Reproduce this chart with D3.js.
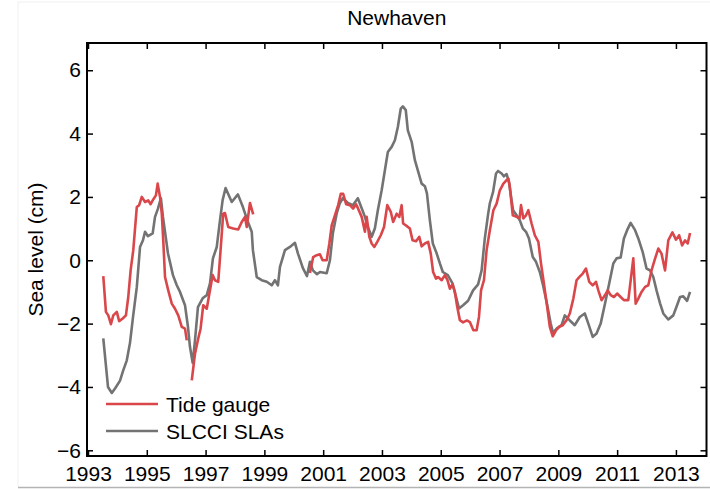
<!DOCTYPE html>
<html>
<head>
<meta charset="utf-8">
<script src="https://cdn.jsdelivr.net/npm/d3@7"></script>
<style>
  body { margin: 0; background: #fff; }
  text { font-family: "Liberation Sans", Arial, Helvetica, sans-serif; }
</style>
</head>
<body>
<div id="chart"></div>
<script>
// tick labels
const xTicks = [1993, 1995, 1997, 1999, 2001, 2003, 2005, 2007, 2009, 2011, 2013];
const yTicks = [-6, -4, -2, 0, 2, 4, 6];

// tide gauge (null = missing)
const gaugeYears = [1993.52, 1993.61, 1993.69, 1993.78, 1993.86, 1993.98, 1994.06, 1994.18, 1994.29, 1994.37,
  1994.45, 1994.54, 1994.66, 1994.74, 1994.83, 1994.94, 1995.05, 1995.13, 1995.22, 1995.31,
  1995.37, 1995.45, 1995.51, 1995.56, 1995.62, 1995.73, 1995.85, 1995.96, 1996.07, 1996.19,
  1996.30, 1996.36, 1996.45, 1996.53, 1996.64, 1996.75, 1996.83, 1996.92, 1997.04, 1997.13,
  1997.24, 1997.32, 1997.43, 1997.51, 1997.60, 1997.66, 1997.77, 1997.94, 1998.11, 1998.23,
  1998.34, 1998.40, 1998.51, 1998.62, 1999.5,
  2000.55, 2000.66, 2000.78, 2000.89, 2000.98, 2001.12, 2001.21, 2001.29, 2001.40, 2001.51,
  2001.60, 2001.68, 2001.78, 2001.91, 2002.02, 2002.12, 2002.19, 2002.31, 2002.42, 2002.48,
  2002.57, 2002.65, 2002.74, 2002.84, 2002.96, 2003.07, 2003.18, 2003.30, 2003.38, 2003.50,
  2003.59, 2003.67, 2003.72, 2003.86, 2003.95, 2004.04, 2004.16, 2004.27, 2004.35, 2004.46,
  2004.57, 2004.66, 2004.74, 2004.84, 2004.91, 2005.03, 2005.14, 2005.23, 2005.31, 2005.40,
  2005.48, 2005.56, 2005.65, 2005.76, 2005.89, 2005.99, 2006.11, 2006.22, 2006.30, 2006.37,
  2006.47, 2006.56, 2006.67, 2006.79, 2006.90, 2007.01, 2007.13, 2007.24, 2007.30, 2007.35,
  2007.45, 2007.58, 2007.68, 2007.73, 2007.81, 2007.90, 2007.98, 2008.09, 2008.20, 2008.32,
  2008.41, 2008.51, 2008.62, 2008.71, 2008.81, 2008.92, 2009.03, 2009.15, 2009.28, 2009.39,
  2009.51, 2009.62, 2009.71, 2009.83, 2009.94, 2010.05, 2010.17, 2010.28, 2010.36, 2010.47,
  2010.59, 2010.68, 2010.78, 2010.89, 2011.00, 2011.12, 2011.23, 2011.38, 2011.55, 2011.63,
  2011.72, 2011.83, 2011.95, 2012.06, 2012.17, 2012.29, 2012.40, 2012.51, 2012.63, 2012.74,
  2012.88, 2013.00, 2013.11, 2013.21, 2013.31, 2013.40, 2013.48];
const gaugeLevels = [-0.5, -1.63, -1.74, -2.02, -1.74, -1.63, -1.92, -1.84, -1.74, -1.16,
  -0.32, 0.32, 1.68, 1.74, 2.0, 1.84, 1.89, 1.77, 1.92, 2.05,
  2.42, 2.0, 1.47, 0.63, -0.53, -0.95, -1.37, -1.53, -1.74, -2.1,
  -2.16, -2.53, null, -3.79, -2.95, -2.47, -2.16, -1.42, -1.53, -1.05,
  -0.47, -0.63, -0.68, 0.32, 1.47, 1.49, 1.05, 1.0, 0.97, 1.21,
  1.37, 1.05, 1.81, 1.45, null,
  -0.4, 0.1, 0.16, 0.19, 0.0, 0.0, 0.53, 1.1, 1.42, 1.74,
  2.1, 2.1, 1.77, 1.74, 1.63, 1.77, 1.63, 1.37, 0.9, 1.37,
  0.74, 0.53, 0.42, 0.58, 0.79, 1.05, 1.74, 1.53, 1.21, 1.47,
  1.37, 1.74, 1.16, 1.07, 1.0, 0.63, 0.6, 0.74, 0.44, 0.53,
  0.58, 0.21, -0.37, -0.58, -0.53, -0.63, -0.47, -0.63, -0.9, -0.76,
  -1.0, -1.47, -1.89, -1.96, -1.9, -1.95, -2.21, -2.21, -1.79, -0.95,
  -0.63, 0.32, 0.95, 1.58, 1.79, 2.21, 2.42, 2.53, 2.58, 2.32,
  1.42, 1.37, 1.32, 1.74, 1.32, 1.42, 1.58, 1.16, 0.79, 0.58,
  -0.1, -0.74, -1.47, -2.1, -2.4, -2.21, -2.1, -2.05, -1.89, -1.68,
  -1.21, -0.63, -0.53, -0.42, -0.26, -0.68, -0.79, -0.68, -0.95, -1.26,
  -1.1, -0.95, -1.1, -1.16, -1.05, -1.16, -1.26, -1.26, 0.06, -1.37,
  -1.21, -1.0, -0.84, -0.79, -0.32, 0.05, 0.37, 0.21, -0.32, 0.63,
  0.88, 0.65, 0.79, 0.47, 0.63, 0.53, 0.86];

// SLCCI altimetry
const slaYears = [1993.52, 1993.68, 1993.81, 1993.92, 1994.09, 1994.19, 1994.32, 1994.43, 1994.53, 1994.66,
  1994.77, 1994.87, 1994.94, 1995.04, 1995.20, 1995.28, 1995.38, 1995.48, 1995.55, 1995.72,
  1995.89, 1996.02, 1996.13, 1996.30, 1996.40, 1996.47, 1996.56, 1996.64, 1996.74, 1996.90,
  1997.04, 1997.15, 1997.25, 1997.38, 1997.49, 1997.58, 1997.68, 1997.89, 1998.10, 1998.27,
  1998.44, 1998.57, 1998.61, 1998.74, 1998.91, 1999.08, 1999.25, 1999.36, 1999.46, 1999.53,
  1999.70, 1999.87, 2000.04, 2000.14, 2000.31, 2000.45, 2000.55, 2000.65, 2000.79, 2000.89,
  2001.12, 2001.23, 2001.33, 2001.46, 2001.57, 2001.67, 2001.84, 2002.01, 2002.18, 2002.31,
  2002.42, 2002.52, 2002.65, 2002.76, 2002.86, 2002.99, 2003.10, 2003.20, 2003.33, 2003.44,
  2003.54, 2003.64, 2003.71, 2003.81, 2003.88, 2004.01, 2004.12, 2004.22, 2004.35, 2004.46,
  2004.53, 2004.63, 2004.73, 2004.86, 2004.97, 2005.07, 2005.24, 2005.40, 2005.52, 2005.62,
  2005.76, 2005.93, 2006.10, 2006.27, 2006.39, 2006.50, 2006.61, 2006.67, 2006.78, 2006.88,
  2006.95, 2007.07, 2007.15, 2007.24, 2007.32, 2007.41, 2007.46, 2007.58, 2007.69, 2007.79,
  2007.90, 2008.00, 2008.13, 2008.24, 2008.37, 2008.48, 2008.61, 2008.74, 2008.82, 2008.95,
  2009.11, 2009.22, 2009.39, 2009.56, 2009.73, 2009.90, 2010.02, 2010.17, 2010.30, 2010.44,
  2010.59, 2010.73, 2010.87, 2010.98, 2011.12, 2011.23, 2011.34, 2011.46, 2011.61, 2011.72,
  2011.87, 2012.00, 2012.12, 2012.23, 2012.34, 2012.46, 2012.57, 2012.74, 2012.91, 2013.02,
  2013.14, 2013.25, 2013.38, 2013.48];
const slaLevels = [-2.47, -4.0, -4.19, -4.05, -3.8, -3.5, -3.16, -2.6, -1.8, -0.85,
  0.42, 0.63, 0.9, 0.76, 0.85, 1.37, 1.63, 1.96, 1.37, 0.22,
  -0.47, -0.79, -1.0, -1.42, -2.1, -2.74, -3.24, -2.53, -1.48, -1.2,
  -1.1, -0.73, 0.06, 0.42, 1.26, 1.9, 2.28, 1.84, 2.08, 1.68,
  1.21, 0.9, 0.32, -0.53, -0.63, -0.68, -0.79, -0.63, -0.79, -0.21,
  0.32, 0.42, 0.55, 0.22, -0.25, -0.5, -0.05, -0.32, -0.44, -0.37,
  -0.41, 0.0, 0.85, 1.48, 1.81, 1.96, 1.81, 1.74, 1.96, 1.64,
  1.37, 1.05, 0.74, 1.01, 1.58, 2.21, 2.84, 3.42, 3.58, 3.79,
  4.21, 4.79, 4.86, 4.74, 4.1, 3.74, 3.16, 2.84, 2.42, 2.34,
  2.11, 1.26, 0.53, 0.22, -0.1, -0.37, -0.47, -0.73, -1.16, -1.52,
  -1.42, -1.28, -0.95, -0.76, -0.32, 0.7, 1.45, 1.8, 2.16, 2.74,
  2.82, 2.74, 2.65, 2.72, 2.47, 1.89, 1.58, 1.42, 1.26, 1.01,
  0.9, 0.69, 0.1, -0.05, -0.37, -0.79, -1.36, -2.0, -2.29, -2.15,
  -2.05, -1.74, -1.9, -2.05, -1.79, -1.68, -2.0, -2.42, -2.31, -2.0,
  -1.36, -0.73, -0.1, 0.06, 0.09, 0.69, 0.95, 1.18, 0.95, 0.69,
  0.26, -0.26, -0.32, -0.53, -0.95, -1.36, -1.68, -1.87, -1.74, -1.47,
  -1.16, -1.14, -1.28, -1.0];

const seriesNames = ["Tide gauge", "SLCCI SLAs"];
const seriesColors = ["#d9474b", "#737373"];

const W = 710, H = 489;
const margin = {top: 43, right: 3.5, bottom: 33, left: 87};
const width = W - margin.left - margin.right,
      height = H - margin.top - margin.bottom;

const svg = d3.select("#chart").append("svg")
  .attr("width", W)
  .attr("height", H);

// faint figure frame
svg.append("line").attr("x1", 18).attr("x2", W).attr("y1", 2).attr("y2", 2)
  .attr("stroke", "#f0f0f0").attr("stroke-width", 1);
svg.append("line").attr("x1", 18).attr("x2", 18).attr("y1", 2).attr("y2", 487)
  .attr("stroke", "#f0f0f0").attr("stroke-width", 1);
svg.append("line").attr("x1", 18).attr("x2", W).attr("y1", 487.5).attr("y2", 487.5)
  .attr("stroke", "#b4b4b4").attr("stroke-width", 1.5);

const g = svg.append("g")
  .attr("transform", `translate(${margin.left}, ${margin.top})`);

const x = d3.scaleLinear().domain([1992.966, 2014.04]).range([0, width]);
const y = d3.scaleLinear().domain([-6.18, 6.86]).range([height, 0]);

// axes with inward ticks
g.append("g")
  .attr("transform", `translate(0, ${height})`)
  .call(d3.axisBottom(x).tickValues(xTicks).tickFormat(d3.format("d")).tickSize(-6).tickPadding(10))
  .call(a => a.select(".domain").remove())
  .call(a => a.selectAll("text").style("font-size", "21px").attr("fill", "#000"));

g.append("g")
  .call(d3.axisTop(x).tickValues(xTicks).tickFormat("").tickSize(-6))
  .call(a => a.select(".domain").remove());

g.append("g")
  .call(d3.axisLeft(y).tickValues(yTicks).tickFormat(d => d < 0 ? "\u2212" + Math.abs(d) : d).tickSize(-6).tickPadding(6))
  .call(a => a.select(".domain").remove())
  .call(a => a.selectAll("text").style("font-size", "21px").attr("fill", "#000"));

g.append("g")
  .attr("transform", `translate(${width}, 0)`)
  .call(d3.axisRight(y).tickValues(yTicks).tickFormat("").tickSize(-6))
  .call(a => a.select(".domain").remove());

g.selectAll(".tick line").attr("stroke", "#000").attr("stroke-width", 1.5);

// series
const gauge = gaugeYears.map((t, i) => ({t, v: gaugeLevels[i]}));
const sla = slaYears.map((t, i) => ({t, v: slaLevels[i]}));

const line = d3.line()
  .defined(d => d.v !== null)
  .x(d => x(d.t))
  .y(d => y(d.v));

g.append("path").datum(sla)
  .attr("fill", "none").attr("stroke", seriesColors[1])
  .attr("stroke-width", 2.6).attr("stroke-linejoin", "round")
  .attr("d", line);

g.append("path").datum(gauge)
  .attr("fill", "none").attr("stroke", seriesColors[0])
  .attr("stroke-width", 2.6).attr("stroke-linejoin", "round")
  .attr("d", line);

// box
g.append("rect")
  .attr("width", width).attr("height", height)
  .attr("fill", "none").attr("stroke", "#000").attr("stroke-width", 2);

// title and labels
svg.append("text")
  .attr("x", margin.left + width / 2).attr("y", 25)
  .attr("text-anchor", "middle")
  .style("font-size", "21px")
  .text("Newhaven");

svg.append("text")
  .attr("transform", `translate(43, ${margin.top + height / 2}) rotate(-90)`)
  .attr("text-anchor", "middle")
  .style("font-size", "21px")
  .text("Sea level (cm)");

// legend
const legend = g.append("g").attr("transform", "translate(19, 361)");
seriesNames.forEach((name, i) => {
  const row = legend.append("g").attr("transform", `translate(0, ${i * 27})`);
  row.append("line").attr("x1", 0).attr("x2", 52)
    .attr("stroke", seriesColors[i]).attr("stroke-width", 2.6);
  row.append("text").attr("x", 60).attr("y", 7.5)
    .style("font-size", "21px")
    .text(name);
});
</script>
</body>
</html>
